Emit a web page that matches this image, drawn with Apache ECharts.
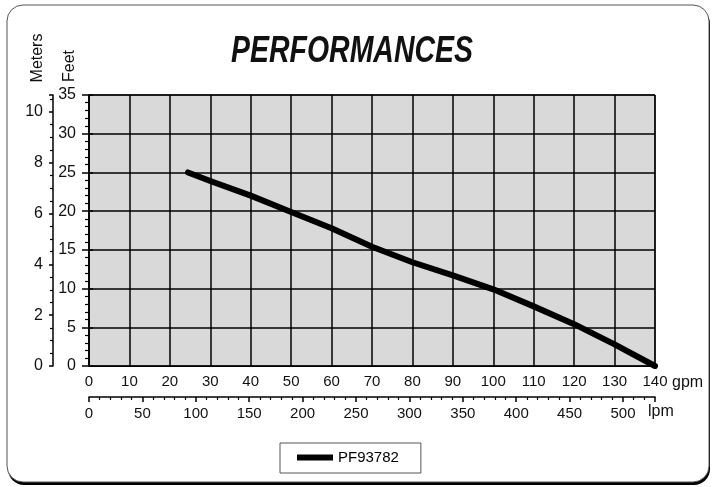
<!DOCTYPE html>
<html>
<head>
<meta charset="utf-8">
<script src="https://cdn.jsdelivr.net/npm/echarts@6/dist/echarts.min.js"></script>
<style>
html,body{margin:0;padding:0;background:#fff;}
#chart{width:712px;height:487px;}
</style>
</head>
<body>
<div id="chart"></div>
<script>
// ---- data ----
const titleText = 'PERFORMANCES';
const seriesName = 'PF93782';
const flowGpm = [24.5, 30, 40, 50, 60, 70, 80, 90, 100, 110, 120, 130, 140];
const headFt  = [25, 23.9, 22.0, 19.9, 17.8, 15.4, 13.4, 11.7, 9.9, 7.7, 5.4, 2.8, 0];
const gpmRange = [0, 140];
const feetRange = [0, 35];
const GPM_TO_LPM = 3.78541;
const FT_TO_M = 0.3048;

const points = flowGpm.map((x, i) => [x, headFt[i]]);
const font = 'Liberation Sans, Arial, sans-serif';

const chart = echarts.init(document.getElementById('chart'), null, {renderer: 'canvas'});
chart.setOption({
  animation: false,
  backgroundColor: '#fff',
  graphic: [
    {type: 'rect', z: -20, shape: {x: 8, y: 8, width: 702, height: 477, r: 16}, style: {fill: '#000'}},
    {type: 'rect', z: -19, shape: {x: 7, y: 5, width: 702, height: 477, r: 16}, style: {fill: '#fff', stroke: '#555', lineWidth: 1}},
    {type: 'text', z: 10, x: 352, y: 52, scaleX: 0.77, style: {text: titleText, font: 'italic bold 37px ' + font, fill: '#111', textAlign: 'center', textVerticalAlign: 'middle'}},
    {type: 'text', z: 10, x: 38, y: 58, rotation: Math.PI / 2, style: {text: 'Meters', font: '16px ' + font, fill: '#111', textAlign: 'center', textVerticalAlign: 'middle'}},
    {type: 'text', z: 10, x: 70, y: 66, rotation: Math.PI / 2, style: {text: 'Feet', font: '16px ' + font, fill: '#111', textAlign: 'center', textVerticalAlign: 'middle'}},
    {type: 'text', z: 10, x: 672, y: 383, style: {text: 'gpm', font: '16px ' + font, fill: '#111', textAlign: 'left', textVerticalAlign: 'middle'}},
    {type: 'text', z: 10, x: 648, y: 412, style: {text: 'lpm', font: '16px ' + font, fill: '#111', textAlign: 'left', textVerticalAlign: 'middle'}}
  ],
  grid: {left: 89, right: 57, top: 95, bottom: 121, show: true, backgroundColor: '#d9d9d9', borderColor: '#000', borderWidth: 1},
  legend: {
    data: [seriesName], left: 280, top: 443, orient: 'horizontal',
    backgroundColor: '#fff', borderColor: '#555', borderWidth: 1, borderRadius: 0,
    padding: [7, 22, 8, 17], itemWidth: 36, itemHeight: 6, icon: 'rect',
    textStyle: {fontSize: 15, fontFamily: font, color: '#000'}
  },
  xAxis: [
    {
      type: 'value', min: gpmRange[0], max: gpmRange[1], interval: 10, position: 'bottom',
      axisLine: {show: true, lineStyle: {color: '#000', width: 1}},
      axisTick: {show: false},
      axisLabel: {fontSize: 15, fontFamily: font, color: '#111', margin: 8},
      splitLine: {show: true, lineStyle: {color: '#000', width: 1.5}}
    },
    {
      type: 'value', min: gpmRange[0] * GPM_TO_LPM, max: gpmRange[1] * GPM_TO_LPM, interval: 50, position: 'bottom', offset: 31,
      axisLine: {show: true, onZero: false, lineStyle: {color: '#000', width: 1.5}},
      axisTick: {show: true, length: 5, lineStyle: {color: '#000', width: 1.5}},
      minorTick: {show: true, splitNumber: 5, length: 3, lineStyle: {color: '#000', width: 1.2}},
      axisLabel: {fontSize: 15, fontFamily: font, color: '#111', margin: 9, showMaxLabel: false},
      splitLine: {show: false}
    }
  ],
  yAxis: [
    {
      type: 'value', min: feetRange[0], max: feetRange[1], interval: 5, position: 'left',
      axisLine: {show: true, lineStyle: {color: '#000', width: 1.5}},
      axisTick: {show: true, length: 7, lineStyle: {color: '#000', width: 1.5}},
      minorTick: {show: true, splitNumber: 5, length: 4, lineStyle: {color: '#000', width: 1.2}},
      axisLabel: {fontSize: 16, fontFamily: font, color: '#111', margin: 13},
      splitLine: {show: true, lineStyle: {color: '#000', width: 1.5}}
    },
    {
      type: 'value', min: feetRange[0] * FT_TO_M, max: feetRange[1] * FT_TO_M, interval: 2, position: 'left', offset: 36,
      axisLine: {show: true, onZero: false, lineStyle: {color: '#000', width: 1.5}},
      axisTick: {show: true, length: 4, lineStyle: {color: '#000', width: 1.5}},
      minorTick: {show: true, splitNumber: 4, length: 3, lineStyle: {color: '#000', width: 1.2}},
      axisLabel: {fontSize: 16, fontFamily: font, color: '#111', margin: 10, showMaxLabel: false},
      splitLine: {show: false}
    },
    {
      type: 'value', min: feetRange[0], max: feetRange[1], interval: 5, position: 'left', offset: 36,
      axisLine: {show: false},
      axisTick: {show: true, inside: true, length: 4, lineStyle: {color: '#000', width: 1.5}},
      axisLabel: {show: false},
      splitLine: {show: false}
    }
  ],
  series: [{
    name: seriesName, type: 'line', xAxisIndex: 0, yAxisIndex: 0,
    data: points, showSymbol: false, symbol: 'none',
    lineStyle: {color: '#000', width: 6, cap: 'round', join: 'round'},
    itemStyle: {color: '#000'}
  }]
});
</script>
</body>
</html>
